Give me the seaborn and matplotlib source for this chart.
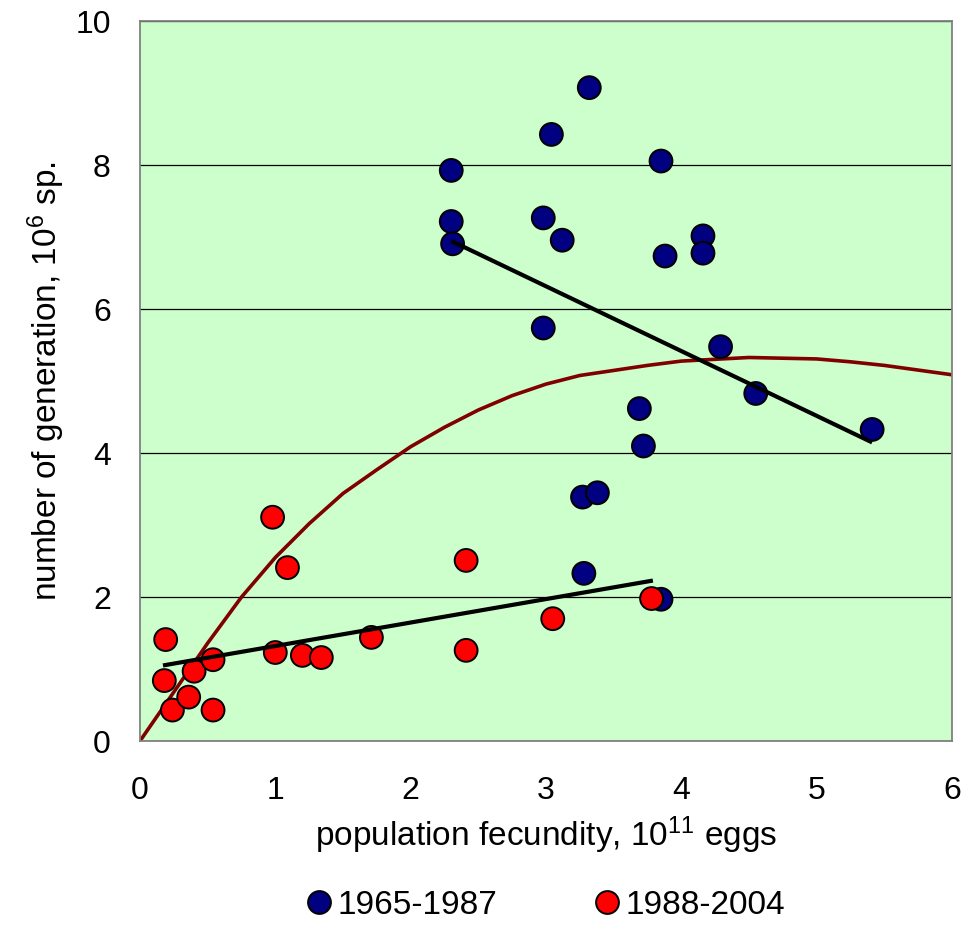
import numpy as np
import pandas as pd
import matplotlib as mpl
mpl.use('Agg')
import matplotlib.pyplot as plt
import seaborn as sns

# 1965-1987 observations
x_early = [3.32, 3.04, 2.30, 3.85, 2.30, 2.98, 2.31, 3.12, 4.16, 4.16, 3.88,
           2.98, 4.29, 4.55, 5.41, 3.69, 3.72, 3.27, 3.38, 3.28, 3.85]
y_early = [9.08, 8.43, 7.93, 8.06, 7.22, 7.27, 6.91, 6.96, 7.02, 6.78, 6.74,
           5.74, 5.48, 4.83, 4.33, 4.62, 4.10, 3.39, 3.45, 2.33, 1.97]

# 1988-2004 observations
x_late = [0.19, 0.18, 0.24, 0.36, 0.40, 0.54, 0.54, 0.98, 1.09, 1.00, 1.20,
          1.34, 1.71, 2.41, 2.41, 3.05, 3.78]
y_late = [1.41, 0.84, 0.43, 0.61, 0.97, 1.13, 0.43, 3.11, 2.41, 1.23, 1.19,
          1.16, 1.44, 2.51, 1.26, 1.70, 1.98]

# linear trends (end points)
trend_early_x = [2.30, 5.41]
trend_early_y = [6.95, 4.15]
trend_late_x = [0.17, 3.79]
trend_late_y = [1.05, 2.23]

# polynomial curve through all years
curve_x = [0, 0.25, 0.5, 0.75, 1.0, 1.25, 1.5, 1.75, 2.0, 2.25, 2.5, 2.75,
           3.0, 3.25, 3.5, 3.75, 4.0, 4.5, 5.0, 5.25, 5.5, 6.0]
curve_y = [0, 0.68, 1.36, 2.0, 2.55, 3.02, 3.44, 3.77, 4.09, 4.36, 4.6, 4.80,
           4.96, 5.08, 5.15, 5.22, 5.28, 5.33, 5.31, 5.27, 5.22, 5.09]

periods = ['1965-1987', '1988-2004']

df = pd.DataFrame({
    'fecundity': x_early + x_late,
    'generation': y_early + y_late,
    'period': [periods[0]] * len(x_early) + [periods[1]] * len(x_late),
})

sns.set_style('white')
plt.rcParams['font.family'] = ['Liberation Sans', 'DejaVu Sans']
plt.rcParams['mathtext.default'] = 'regular'
plt.rcParams['text.color'] = 'black'
plt.rcParams['axes.labelcolor'] = 'black'

fig = plt.figure(figsize=(9.74, 9.25), dpi=100)
ax = fig.add_axes([0.1437, 0.1989, 0.8337, 0.7779])
ax.set_facecolor('#CCFFCC')

ax.plot(curve_x, curve_y, color='#800000', lw=2.6, zorder=1.5)

sns.scatterplot(data=df, x='fecundity', y='generation', hue='period',
                palette={periods[0]: '#000080', periods[1]: '#FF0000'},
                s=270, edgecolor='black', linewidth=1.4, ax=ax, zorder=2)

ax.plot(trend_early_x, trend_early_y, color='black', lw=3, zorder=3,
        solid_capstyle='butt')
ax.plot(trend_late_x, trend_late_y, color='black', lw=3, zorder=3,
        solid_capstyle='butt')

ax.set_xlim(0, 6)
ax.set_ylim(0, 10)
ax.set_xticks(range(0, 7))
ax.set_yticks(range(0, 11, 2))

ax.set_axisbelow(True)
ax.yaxis.grid(True, color='black', lw=0.9)
ax.xaxis.grid(False)

for sp in ax.spines.values():
    sp.set_color('#808080')
    sp.set_linewidth(1.3)

ax.tick_params(axis='both', which='major', direction='out', length=7,
               width=1, color='black', labelsize=23, labelcolor='black')
ax.tick_params(axis='x', pad=18)
ax.tick_params(axis='y', pad=14)

ax.set_xlabel('population fecundity, 10$^{11}$ eggs', fontsize=24, labelpad=6)
ax.set_ylabel('number of generation, 10$^{6}$ sp.', fontsize=24, labelpad=6)

handles, labels = ax.get_legend_handles_labels()
ax.get_legend().remove()
fig.legend(handles, labels, loc='center', bbox_to_anchor=(0.562, 0.021),
           ncol=2, frameon=False, fontsize=24, handlelength=0.6,
           handletextpad=0.25, columnspacing=3.0, markerscale=1.0,
           borderaxespad=0, borderpad=0.1)

fig.savefig('out.png', dpi=100)
